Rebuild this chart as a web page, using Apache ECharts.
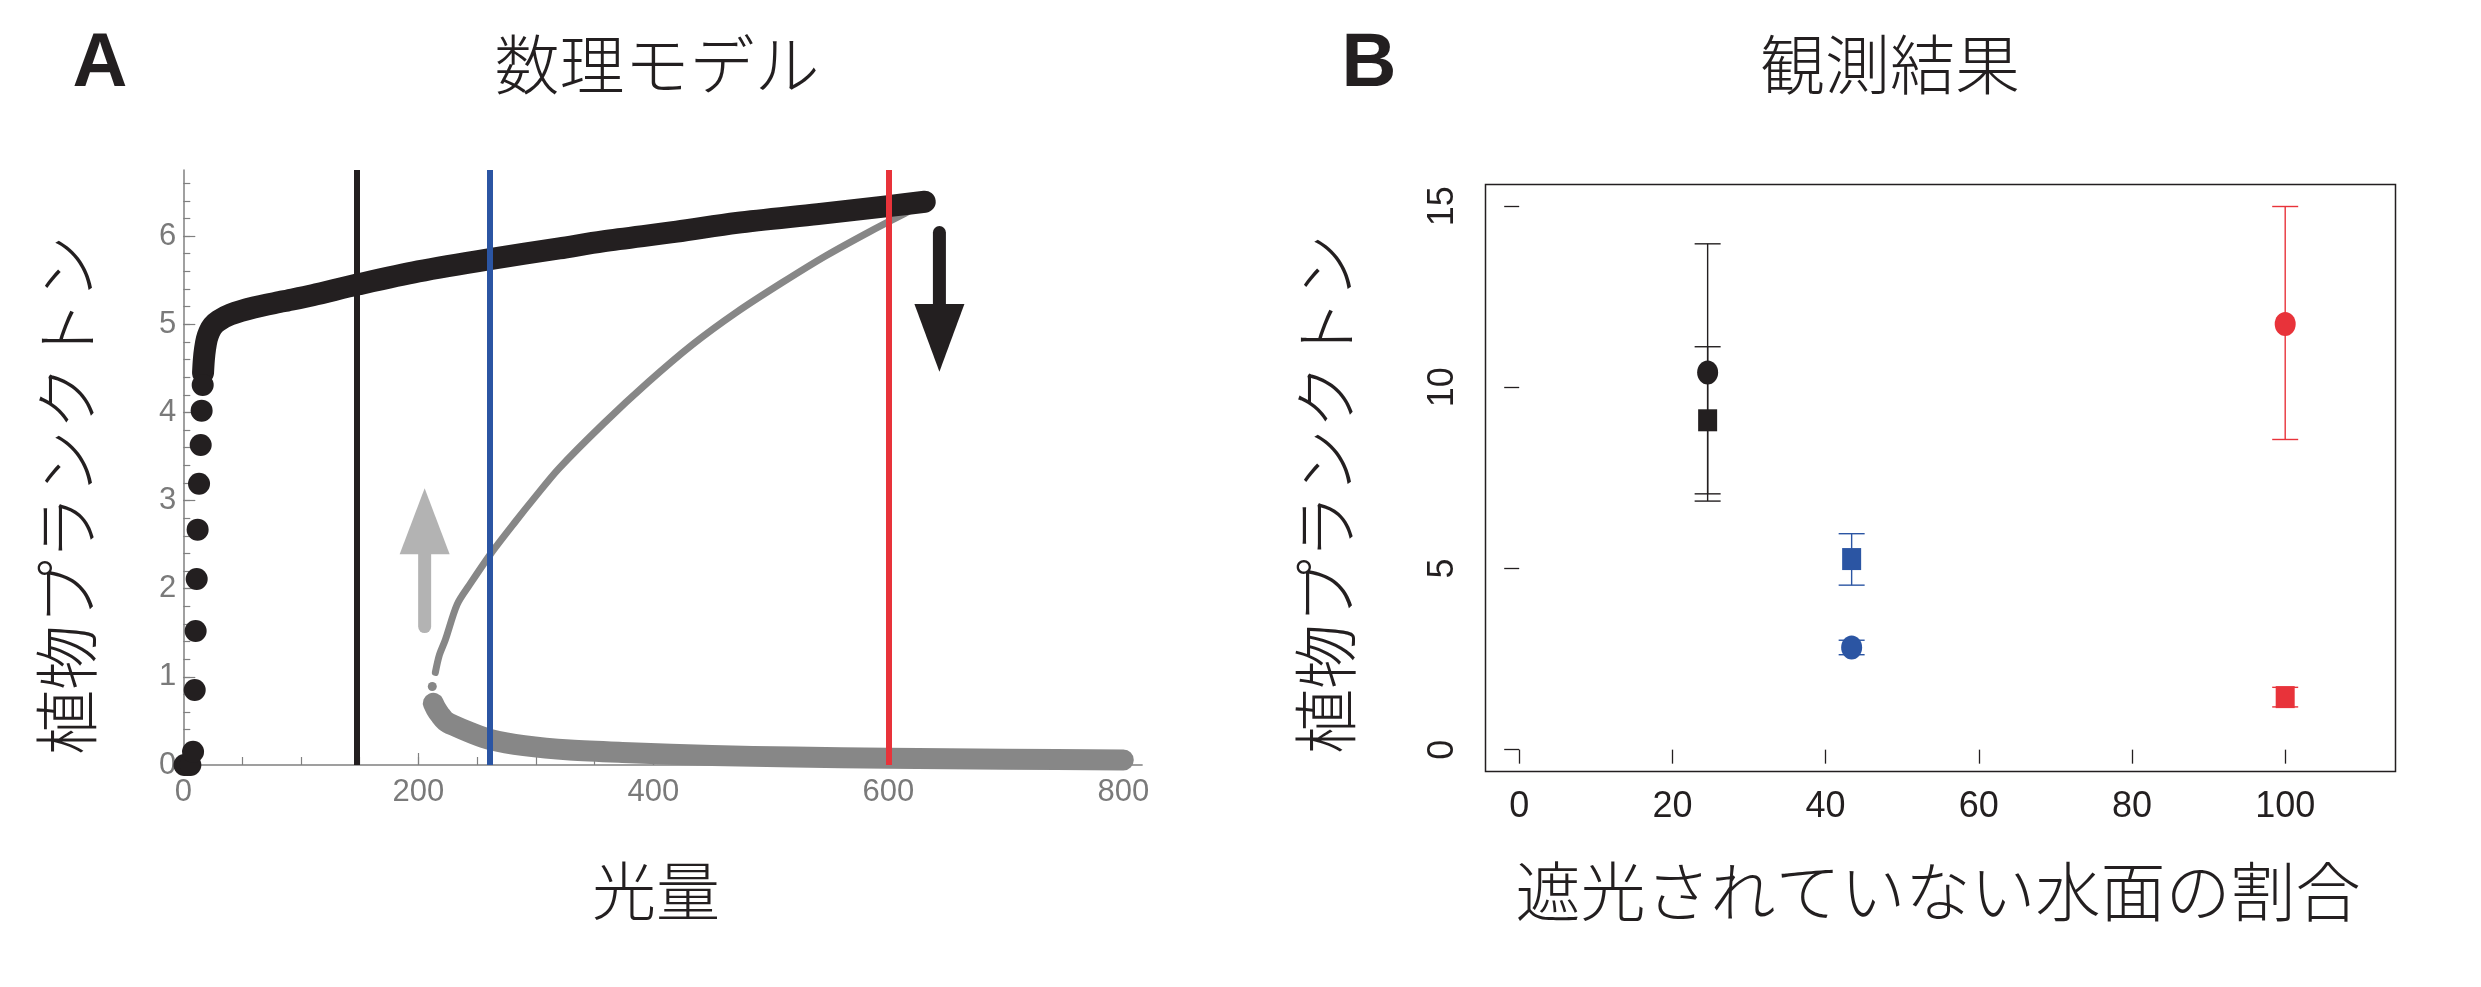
<!DOCTYPE html>
<html><head><meta charset="utf-8">
<script src="https://cdn.jsdelivr.net/npm/echarts@6/dist/echarts.min.js"></script>
<style>html,body{margin:0;padding:0;background:#fff}#c{width:2481px;height:987px}</style>
</head><body><div id="c"></div>
<script>
// ---------- Panel A: 数理モデル ----------
const aXTickLabels = [0, 200, 400, 600, 800];
const aYTickLabels = [0, 1, 2, 3, 4, 5, 6];
// discrete black points (steep rise at low light)
const blackDotX = [1, 3.5, 6, 8.3, 9.7, 10.5, 11.4, 12.2, 13.4, 14.8, 15.6, 16.5];
const blackDotY = [0, 0, 0, 0.15, 0.85, 1.52, 2.11, 2.67, 3.19, 3.63, 4.02, 4.31];
// upper stable branch (black)
const blackBandX = [16.8, 17.5, 18.5, 20, 22, 25, 30, 40, 60, 85, 110, 148, 200, 261, 320, 357, 420, 471, 540, 600, 631];
const blackBandY = [4.45, 4.6, 4.72, 4.83, 4.91, 4.98, 5.04, 5.11, 5.19, 5.26, 5.33, 5.45, 5.60, 5.74, 5.86, 5.94, 6.05, 6.15, 6.25, 6.34, 6.39];
// unstable branch (thin gray)
const grayUpX = [214.5, 218, 223, 233, 243.4, 261.3, 281.4, 300, 319.4, 357.4, 395.4, 433.4, 471.3, 509.4, 547.3, 585.4, 615.7, 628];
const grayUpY = [1.05, 1.25, 1.42, 1.82, 2.04, 2.39, 2.74, 3.05, 3.36, 3.87, 4.34, 4.77, 5.14, 5.47, 5.78, 6.06, 6.27, 6.36];
// lower stable branch (thick gray)
const grayLowX = [212.8, 215, 218.5, 223, 229.8, 244, 261, 290, 329, 380, 450, 520, 600, 700, 800];
const grayLowY = [0.70, 0.64, 0.57, 0.50, 0.45, 0.37, 0.29, 0.22, 0.17, 0.14, 0.108, 0.09, 0.076, 0.065, 0.057];
// isolated gray point near the fold
const grayDotX = [211.9];
const grayDotY = [0.89];
// vertical reference lines (light level)
const vLineX = [148, 261, 600];
// arrows: x, tail, head base, tip
const arrowX = [205.4, 643.5];
const arrowTail = [1.57, 6.04];
const arrowBase = [2.39, 5.23];
const arrowTip = [3.14, 4.46];

// ---------- Panel B: 観測結果 ----------
const bXTickLabels = [0, 20, 40, 60, 80, 100];
const bYTickLabels = [0, 5, 10, 15];
const circleX = [24.6, 43.4, 100];
const circleY = [10.41, 2.82, 11.75];
const circleLow = [6.86, 2.62, 8.56];
const circleHigh = [13.96, 3.02, 14.99];
const squareX = [24.6, 43.4, 100];
const squareY = [9.09, 5.26, 1.45];
const squareLow = [7.06, 4.54, 1.18];
const squareHigh = [11.12, 5.96, 1.72];

const C_BLACK = '#231f20', C_BLUE = '#2b55a3', C_RED = '#e8333a';
const C_GRAY = '#878787', C_LGRAY = '#b3b3b3', C_AXIS = '#808080';
const groupColors = [C_BLACK, C_BLUE, C_RED];
const vLineColors = [C_BLACK, C_BLUE, C_RED];
const arrowColors = [C_LGRAY, C_BLACK];

const zip = (xs, ys) => xs.map((x, i) => [x, ys[i]]);
const aMinorY = []; for (let i = 0; i <= 33; i++) aMinorY.push(Math.round(i * 0.2 * 10) / 10);
const aMinorX = []; for (let v = 0; v <= 800; v += 50) aMinorX.push(v);

const CJK = '"Noto Sans CJK JP", "Noto Sans CJK SC", sans-serif';
const LAT = '"Liberation Sans", Arial, sans-serif';

const chart = echarts.init(document.getElementById('c'));

const option = {
  animation: false,
  backgroundColor: '#ffffff',
  grid: [
    { left: 183.3, top: 170, width: 958.8, height: 595, show: false },
    { left: 1485.5, top: 184.4, width: 910, height: 587, show: true, borderColor: C_BLACK, borderWidth: 1.5, backgroundColor: 'transparent' }
  ],
  xAxis: [
    { gridIndex: 0, type: 'value', min: 0, max: 816, interval: 200, position: 'bottom',
      axisLine: { show: true, onZero: false, lineStyle: { color: C_AXIS, width: 1.5 } },
      axisTick: { show: true, inside: true, length: 12, customValues: aXTickLabels, lineStyle: { color: C_AXIS, width: 1.2 } },
      axisLabel: { show: true, customValues: aXTickLabels, margin: 12, color: '#7a7a7a', fontSize: 31, fontFamily: LAT },
      splitLine: { show: false } },
    { gridIndex: 0, type: 'value', min: 0, max: 816, interval: 50, position: 'bottom',
      axisLine: { show: false },
      axisTick: { show: true, inside: true, length: 8, customValues: aMinorX, lineStyle: { color: C_AXIS, width: 1.2 } },
      axisLabel: { show: false }, splitLine: { show: false } },
    { gridIndex: 1, type: 'value', min: -4.4, max: 114.4, position: 'bottom',
      axisLine: { show: false },
      axisTick: { show: true, inside: false, length: 14, customValues: bXTickLabels, lineStyle: { color: C_BLACK, width: 1.3 } },
      axisLabel: { show: true, customValues: bXTickLabels, margin: 18, color: C_BLACK, fontSize: 36, fontFamily: LAT },
      splitLine: { show: false } }
  ],
  yAxis: [
    { gridIndex: 0, type: 'value', min: 0, max: 6.75, interval: 1, position: 'left',
      axisLine: { show: true, onZero: false, lineStyle: { color: C_AXIS, width: 1.5 } },
      axisTick: { show: true, inside: true, length: 12, customValues: aYTickLabels, lineStyle: { color: C_AXIS, width: 1.2 } },
      axisLabel: { show: true, customValues: aYTickLabels, margin: 7, color: '#7a7a7a', fontSize: 31, fontFamily: LAT },
      splitLine: { show: false } },
    { gridIndex: 0, type: 'value', min: 0, max: 6.75, interval: 0.2, position: 'left',
      axisLine: { show: false },
      axisTick: { show: true, inside: true, length: 7, customValues: aMinorY, lineStyle: { color: C_AXIS, width: 1.2 } },
      axisLabel: { show: false }, splitLine: { show: false } },
    { gridIndex: 1, type: 'value', min: -0.6, max: 15.6, position: 'left',
      axisLine: { show: false },
      axisTick: { show: true, inside: false, length: 15, customValues: bYTickLabels, lineStyle: { color: C_BLACK, width: 1.3 } },
      axisLabel: { show: true, customValues: bYTickLabels, rotate: 90, margin: 24, color: C_BLACK, fontSize: 36, fontFamily: LAT },
      splitLine: { show: false } }
  ],
  series: [
    // vertical reference lines
    { type: 'line', xAxisIndex: 0, yAxisIndex: 0, data: [], z: 1,
      markLine: { silent: true, symbol: ['none', 'none'], label: { show: false }, animation: false,
        data: vLineX.map((v, i) => ({ xAxis: v, lineStyle: { color: vLineColors[i], width: 6, type: 'solid', opacity: 1 } })) } },
    // lower stable branch
    { type: 'line', xAxisIndex: 0, yAxisIndex: 0, z: 3, clip: false, symbol: 'none', smooth: 0.3,
      data: zip(grayLowX, grayLowY), lineStyle: { color: C_GRAY, width: 21, cap: 'round', join: 'round', opacity: 1 } },
    // unstable branch
    { type: 'line', xAxisIndex: 0, yAxisIndex: 0, z: 3, clip: false, symbol: 'none', smooth: 0.3,
      data: zip(grayUpX, grayUpY), lineStyle: { color: C_GRAY, width: 7, cap: 'round', join: 'round', opacity: 1 } },
    { type: 'scatter', xAxisIndex: 0, yAxisIndex: 0, z: 3, clip: false, symbolSize: 9,
      data: zip(grayDotX, grayDotY), itemStyle: { color: C_GRAY, opacity: 1 } },
    // upper stable branch
    { type: 'line', xAxisIndex: 0, yAxisIndex: 0, z: 4, clip: false, symbol: 'none', smooth: 0.3,
      data: zip(blackBandX, blackBandY), lineStyle: { color: C_BLACK, width: 22, cap: 'round', join: 'round', opacity: 1 } },
    { type: 'scatter', xAxisIndex: 0, yAxisIndex: 0, z: 4, clip: false, symbolSize: 22,
      data: zip(blackDotX, blackDotY), itemStyle: { color: C_BLACK, opacity: 1 } },
    // arrows
    { type: 'custom', xAxisIndex: 0, yAxisIndex: 0, z: 5, clip: false,
      data: arrowX.map((x, i) => [x, arrowTail[i], arrowBase[i], arrowTip[i]]),
      renderItem: function (params, api) {
        const x = api.value(0);
        const p0 = api.coord([x, api.value(1)]);
        const p1 = api.coord([x, api.value(2)]);
        const p2 = api.coord([x, api.value(3)]);
        const col = arrowColors[params.dataIndex];
        const dir = Math.sign(p2[1] - p1[1]);
        return { type: 'group', children: [
          { type: 'line', shape: { x1: p0[0], y1: p0[1], x2: p1[0], y2: p1[1] + dir * 3 }, style: { stroke: col, lineWidth: 13, lineCap: 'round' } },
          { type: 'polygon', shape: { points: [[p1[0] - 25, p1[1]], [p1[0] + 25, p1[1]], [p2[0], p2[1]]] }, style: { fill: col } }
        ] };
      } },
    // Panel B error bars
    { type: 'custom', xAxisIndex: 2, yAxisIndex: 2, z: 3,
      data: circleX.map((x, i) => [x, circleLow[i], circleHigh[i], i]).concat(squareX.map((x, i) => [x, squareLow[i], squareHigh[i], i])),
      renderItem: function (params, api) {
        const x = api.value(0);
        const a = api.coord([x, api.value(1)]);
        const b = api.coord([x, api.value(2)]);
        const col = groupColors[api.value(3)];
        const w = 13, st = { stroke: col, lineWidth: 1.4 };
        return { type: 'group', children: [
          { type: 'line', shape: { x1: a[0], y1: a[1], x2: b[0], y2: b[1] }, style: st },
          { type: 'line', shape: { x1: a[0] - w, y1: a[1], x2: a[0] + w, y2: a[1] }, style: st },
          { type: 'line', shape: { x1: b[0] - w, y1: b[1], x2: b[0] + w, y2: b[1] }, style: st }
        ] };
      } },
    { type: 'scatter', xAxisIndex: 2, yAxisIndex: 2, z: 4, symbol: 'circle', symbolSize: [21, 24],
      data: circleX.map((x, i) => ({ value: [x, circleY[i]], itemStyle: { color: groupColors[i], opacity: 1 } })) },
    { type: 'scatter', xAxisIndex: 2, yAxisIndex: 2, z: 4, symbol: 'rect', symbolSize: [19, 22],
      data: squareX.map((x, i) => ({ value: [x, squareY[i]], itemStyle: { color: groupColors[i], opacity: 1 } })) }
  ],
  graphic: [
    { type: 'text', x: 100, y: 65, style: { text: 'A', fontSize: 76, fontWeight: 'bold', fontFamily: LAT, fill: C_BLACK, align: 'center', verticalAlign: 'middle' } },
    { type: 'text', x: 1369, y: 65, style: { text: 'B', fontSize: 76, fontWeight: 'bold', fontFamily: LAT, fill: C_BLACK, align: 'center', verticalAlign: 'middle' } },
    { type: 'text', x: 657, y: 64, style: { text: '数理モデル', fontSize: 65, fontWeight: 300, fontFamily: CJK, fill: C_BLACK, align: 'center', verticalAlign: 'middle' } },
    { type: 'text', x: 1890, y: 64, style: { text: '観測結果', fontSize: 65, fontWeight: 300, fontFamily: CJK, fill: C_BLACK, align: 'center', verticalAlign: 'middle' } },
    { type: 'text', x: 656, y: 891, style: { text: '光量', fontSize: 64, fontWeight: 300, fontFamily: CJK, fill: C_BLACK, align: 'center', verticalAlign: 'middle' } },
    { type: 'text', x: 1938, y: 891, style: { text: '遮光されていない水面の割合', fontSize: 65, fontWeight: 300, fontFamily: CJK, fill: C_BLACK, align: 'center', verticalAlign: 'middle' } },
    { type: 'text', x: 66, y: 495, rotation: Math.PI / 2, style: { text: '植物プランクトン', fontSize: 65, fontWeight: 300, fontFamily: CJK, fill: C_BLACK, align: 'center', verticalAlign: 'middle' } },
    { type: 'text', x: 1325, y: 494, rotation: Math.PI / 2, style: { text: '植物プランクトン', fontSize: 65, fontWeight: 300, fontFamily: CJK, fill: C_BLACK, align: 'center', verticalAlign: 'middle' } }
  ]
};
chart.setOption(option);
</script>
</body></html>
